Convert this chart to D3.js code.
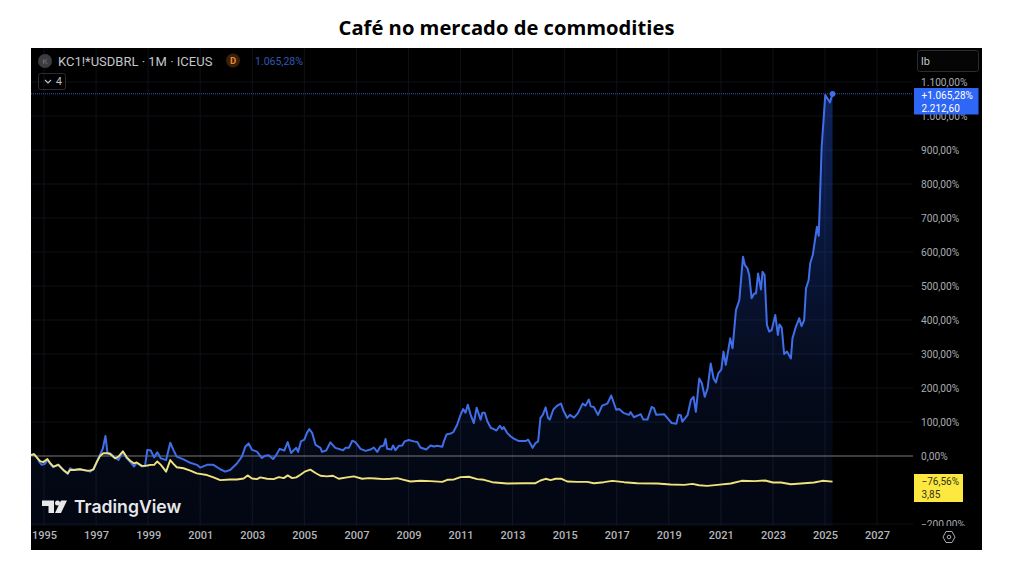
<!DOCTYPE html>
<html>
<head>
<meta charset="utf-8">
<script src="https://cdn.jsdelivr.net/npm/d3@7"></script>
<style>
  html, body { margin: 0; padding: 0; background: #fff; }
  svg { display: block; }
  text { font-family: Roboto, sans-serif; }
  .domain { display: none; }
</style>
</head>
<body>
<svg id="chart" width="1012" height="562"></svg>
<script>
const title = "Café no mercado de commodities";
const symbolLabel = "KC1!*USDBRL · 1M · ICEUS";
const lastPctLabel = "1.065,28%";
const xTicks = [1995, 1997, 1999, 2001, 2003, 2005, 2007, 2009, 2011, 2013, 2015, 2017, 2019, 2021, 2023, 2025, 2027];
const yTicks = [-200, 0, 100, 200, 300, 400, 500, 600, 700, 800, 900, 1000, 1100];
const coffeeBadge = ["+1.065,28%", "2.212,60"];
const ratioBadge = ["−76,56%", "3,85"];

// [year, % change]
const coffee = [
  [1994.5,3],[1994.62,5],[1994.72,-2],[1994.82,-17],[1994.91,-26],[1995.04,-23],[1995.13,-12],[1995.23,-22],
  [1995.36,-33],[1995.55,-25],[1995.74,-41],[1995.91,-53],[1996.0,-36],[1996.13,-41],[1996.38,-39],[1996.64,-43],
  [1996.77,-46],[1996.9,-39],[1997.03,-17],[1997.15,3],[1997.26,22],[1997.36,59],[1997.44,8],[1997.54,8],
  [1997.73,-4],[1997.86,-12],[1998.03,12],[1998.18,-7],[1998.31,-17],[1998.46,-31],[1998.56,-20],[1998.76,-31],
  [1998.88,-29],[1998.97,18],[1999.1,16],[1999.23,-4],[1999.35,11],[1999.49,-7],[1999.69,-12],[1999.85,39],
  [1999.97,18],[2000.1,-2],[2000.36,-10],[2000.62,-20],[2000.87,-26],[2001.0,-34],[2001.26,-26],[2001.51,-26],
  [2001.77,-39],[2001.96,-46],[2002.15,-41],[2002.41,-22],[2002.6,-2],[2002.73,27],[2002.86,37],[2002.99,18],
  [2003.18,13],[2003.37,-6],[2003.5,1],[2003.63,2],[2003.8,-9],[2003.93,4],[2004.05,21],[2004.23,16],
  [2004.36,41],[2004.49,9],[2004.59,17],[2004.69,24],[2004.76,12],[2004.87,43],[2005.0,48],[2005.1,68],
  [2005.19,79],[2005.3,68],[2005.43,33],[2005.62,24],[2005.68,12],[2005.84,16],[2006.0,40],[2006.19,24],
  [2006.49,17],[2006.58,24],[2006.71,24],[2006.84,45],[2006.96,41],[2007.16,21],[2007.35,15],[2007.54,19],
  [2007.67,25],[2007.8,12],[2007.92,28],[2008.05,31],[2008.12,50],[2008.18,21],[2008.34,19],[2008.41,31],
  [2008.5,17],[2008.63,30],[2008.76,31],[2008.85,43],[2009.01,47],[2009.21,43],[2009.34,41],[2009.46,25],
  [2009.68,19],[2009.85,31],[2009.98,28],[2010.1,30],[2010.3,27],[2010.36,43],[2010.46,63],[2010.62,66],
  [2010.72,70],[2010.87,92],[2011.0,121],[2011.1,138],[2011.19,127],[2011.28,151],[2011.39,121],[2011.51,97],
  [2011.62,142],[2011.77,107],[2011.84,127],[2011.93,127],[2012.03,102],[2012.16,83],[2012.28,79],[2012.38,75],
  [2012.51,89],[2012.6,79],[2012.66,85],[2012.79,68],[2012.92,58],[2013.05,51],[2013.24,44],[2013.5,44],
  [2013.6,48],[2013.77,24],[2013.88,38],[2013.98,43],[2014.07,112],[2014.16,121],[2014.27,143],[2014.36,112],
  [2014.43,107],[2014.56,136],[2014.68,146],[2014.78,151],[2014.86,154],[2014.95,134],[2015.1,112],[2015.2,121],
  [2015.36,113],[2015.51,126],[2015.69,154],[2015.8,148],[2015.93,166],[2016.0,146],[2016.12,144],[2016.28,121],
  [2016.44,148],[2016.64,154],[2016.79,178],[2016.98,136],[2017.09,138],[2017.28,126],[2017.47,121],[2017.53,129],
  [2017.66,114],[2017.86,121],[2017.92,123],[2018.02,107],[2018.18,107],[2018.34,144],[2018.43,141],[2018.52,121],
  [2018.82,123],[2018.94,112],[2019.11,97],[2019.29,95],[2019.37,121],[2019.46,120],[2019.52,101],[2019.72,120],
  [2019.85,165],[2019.95,174],[2020.04,130],[2020.17,228],[2020.27,214],[2020.38,174],[2020.49,199],[2020.61,272],
  [2020.72,228],[2020.81,216],[2020.9,243],[2021.02,255],[2021.1,307],[2021.19,268],[2021.36,346],[2021.45,317],
  [2021.58,429],[2021.71,459],[2021.85,586],[2021.92,562],[2022.02,552],[2022.09,532],[2022.18,464],[2022.28,478],
  [2022.35,478],[2022.43,537],[2022.54,490],[2022.6,542],[2022.68,532],[2022.77,385],[2022.86,366],[2022.95,370],
  [2023.09,415],[2023.19,356],[2023.25,387],[2023.34,377],[2023.43,300],[2023.54,307],[2023.69,287],[2023.75,346],
  [2023.88,380],[2024.01,405],[2024.1,382],[2024.2,400],[2024.27,493],[2024.37,517],[2024.43,566],[2024.53,591],
  [2024.69,674],[2024.76,648],[2024.87,906],[2025.01,1062],[2025.19,1040],[2025.29,1065]
];

const ratio = [
  [1994.5,3],[1994.62,5],[1994.72,-4],[1994.85,-15],[1994.97,-18],[1995.13,-9],[1995.23,-20],[1995.36,-31],
  [1995.55,-26],[1995.74,-41],[1995.91,-51],[1996.0,-41],[1996.13,-41],[1996.38,-39],[1996.64,-43],[1996.77,-43],
  [1996.9,-39],[1997.03,-17],[1997.15,0],[1997.28,8],[1997.44,8],[1997.54,6],[1997.73,-7],[1997.86,-2],
  [1998.03,14],[1998.18,-4],[1998.31,-14],[1998.46,-22],[1998.56,-19],[1998.76,-29],[1998.88,-29],[1998.97,-28],
  [1999.1,-26],[1999.23,-26],[1999.35,-16],[1999.49,-26],[1999.69,-46],[1999.85,-12],[1999.97,-23],[2000.1,-33],
  [2000.36,-36],[2000.62,-43],[2000.87,-51],[2001.26,-56],[2001.51,-63],[2001.77,-71],[2002.15,-69],[2002.41,-69],
  [2002.67,-66],[2002.82,-57],[2002.99,-66],[2003.18,-68],[2003.31,-63],[2003.57,-67],[2003.82,-68],[2004.02,-62],
  [2004.21,-65],[2004.36,-57],[2004.53,-65],[2004.69,-63],[2004.85,-55],[2005.04,-45],[2005.23,-40],[2005.43,-50],
  [2005.62,-58],[2005.87,-60],[2006.1,-58],[2006.32,-67],[2006.64,-63],[2006.9,-60],[2007.22,-67],[2007.48,-65],
  [2007.73,-66],[2008.05,-68],[2008.31,-67],[2008.57,-65],[2008.82,-70],[2009.08,-75],[2009.46,-73],[2009.85,-74],
  [2010.3,-76],[2010.49,-70],[2010.75,-69],[2011.0,-62],[2011.32,-61],[2011.64,-68],[2011.9,-70],[2012.22,-77],
  [2012.79,-81],[2013.43,-80],[2013.88,-80],[2014.07,-72],[2014.27,-67],[2014.46,-71],[2014.65,-67],[2014.88,-67],
  [2015.1,-75],[2015.48,-76],[2015.87,-76],[2016.12,-80],[2016.51,-77],[2016.83,-73],[2017.28,-77],[2017.79,-80],
  [2018.56,-81],[2019.07,-84],[2019.59,-85],[2019.91,-82],[2020.16,-86],[2020.48,-88],[2020.87,-85],[2021.38,-81],
  [2021.8,-73],[2022.3,-74],[2022.7,-72],[2023.0,-78],[2023.31,-78],[2023.69,-83],[2024.58,-78],[2024.9,-73],[2025.29,-75.5]
];

const chartBox = { left: 31, top: 48, right: 982, bottom: 550 };
const plotRight = 913, plotBottom = 526;
const blue = "#3f6ee8", yellow = "#f0e27c", axisText = "#a9abb2";

const svg = d3.select("#chart");
const x = d3.scaleLinear().domain([1995, 2025]).range([44, 825]);
const y = d3.scaleLinear().domain([0, 1000]).range([456, 116]);

const ptBR = d3.formatLocale({ decimal: ",", thousands: ".", grouping: [3], currency: ["", ""], minus: "−" });
const pctFormat = d => ptBR.format(",.2f")(d) + "%";

svg.append("text").attr("x", 506.5).attr("y", 35).attr("text-anchor", "middle")
  .style("font-family", "'Open Sans', sans-serif").style("font-size", "20.2px").style("font-weight", 700)
  .attr("fill", "#000").text(title);

svg.append("rect").attr("x", chartBox.left).attr("y", chartBox.top)
  .attr("width", chartBox.right - chartBox.left).attr("height", chartBox.bottom - chartBox.top).attr("fill", "#000");

const defs = svg.append("defs");
defs.append("clipPath").attr("id", "plot").append("rect")
  .attr("x", chartBox.left).attr("y", chartBox.top)
  .attr("width", plotRight - chartBox.left).attr("height", plotBottom - chartBox.top);
defs.append("clipPath").attr("id", "scaleClip").append("rect")
  .attr("x", plotRight).attr("y", chartBox.top)
  .attr("width", chartBox.right - plotRight).attr("height", plotBottom - chartBox.top);
const grad = defs.append("linearGradient").attr("id", "areaFill")
  .attr("gradientUnits", "userSpaceOnUse").attr("x1", 0).attr("x2", 0).attr("y1", 94).attr("y2", 526);
grad.append("stop").attr("offset", 0).attr("stop-color", "#2962ff").attr("stop-opacity", 0.36);
grad.append("stop").attr("offset", 0.7).attr("stop-color", "#2962ff").attr("stop-opacity", 0.1);
grad.append("stop").attr("offset", 1).attr("stop-color", "#2962ff").attr("stop-opacity", 0.07);

const plot = svg.append("g").attr("clip-path", "url(#plot)");

// grid
plot.append("g").selectAll("line").data(xTicks).join("line")
  .attr("x1", d => x(d)).attr("x2", d => x(d)).attr("y1", chartBox.top).attr("y2", plotBottom)
  .attr("stroke", "#0f1116").attr("stroke-width", 1);
plot.append("g").selectAll("line").data(yTicks.filter(d => d !== 0)).join("line")
  .attr("x1", chartBox.left).attr("x2", plotRight).attr("y1", d => y(d)).attr("y2", d => y(d))
  .attr("stroke", "#0f1116").attr("stroke-width", 1);

const area = d3.area().x(d => x(d[0])).y0(plotBottom).y1(d => y(d[1]));
const line = d3.line().x(d => x(d[0])).y(d => y(d[1]));

plot.append("path").datum(coffee).attr("d", area).attr("fill", "url(#areaFill)");

// zero line and last value line
plot.append("line").attr("x1", chartBox.left).attr("x2", plotRight).attr("y1", y(0)).attr("y2", y(0))
  .attr("stroke", "#77787c").attr("stroke-width", 1);
plot.append("line").attr("x1", chartBox.left).attr("x2", plotRight)
  .attr("y1", y(1065.28)).attr("y2", y(1065.28))
  .attr("stroke", "#2f55c0").attr("stroke-width", 1).attr("stroke-dasharray", "1 1");

plot.append("path").datum(coffee).attr("d", line).attr("fill", "none")
  .attr("stroke", blue).attr("stroke-width", 2).attr("stroke-linejoin", "round");
plot.append("path").datum(ratio).attr("d", line).attr("fill", "none")
  .attr("stroke", yellow).attr("stroke-width", 1.9).attr("stroke-linejoin", "round");
const lastPoint = coffee[coffee.length - 1];
plot.append("circle").attr("cx", x(lastPoint[0])).attr("cy", y(lastPoint[1])).attr("r", 2.8).attr("fill", blue);

// axes
const xAxis = svg.append("g").attr("transform", `translate(0,${plotBottom})`)
  .call(d3.axisBottom(x).tickValues(xTicks).tickFormat(d3.format("d")).tickSize(0).tickPadding(5));
xAxis.selectAll("text").attr("fill", "#b4b6bc").style("font-size", "11px").style("font-weight", 500)
  .style("font-family", "Roboto, sans-serif");

const yAxis = svg.append("g").attr("clip-path", "url(#scaleClip)").append("g")
  .attr("transform", "translate(921,0)")
  .call(d3.axisRight(y).tickValues(yTicks).tickFormat(pctFormat).tickSize(0).tickPadding(0));
yAxis.selectAll("text").attr("fill", axisText).style("font-size", "10.2px")
  .style("font-family", "Roboto, sans-serif");

// header
svg.append("circle").attr("cx", 45).attr("cy", 61).attr("r", 7).attr("fill", "#3c3c40");
svg.append("text").attr("x", 45).attr("y", 64).attr("text-anchor", "middle").attr("fill", "#777")
  .style("font-size", "8px").text("K");
svg.append("text").attr("x", 58).attr("y", 66).attr("fill", "#c4c5c9").style("font-size", "13px").text(symbolLabel);
svg.append("circle").attr("cx", 233).attr("cy", 60.5).attr("r", 7).attr("fill", "#3a2008");
svg.append("text").attr("x", 233).attr("y", 64).attr("text-anchor", "middle").attr("fill", "#e8873a")
  .style("font-size", "9.5px").style("font-weight", 700).text("D");
svg.append("text").attr("x", 255).attr("y", 65).attr("fill", "#3358b8").style("font-size", "10.5px").text(lastPctLabel);
svg.append("rect").attr("x", 38.5).attr("y", 73.5).attr("width", 27).attr("height", 16).attr("rx", 2)
  .attr("fill", "none").attr("stroke", "#2c2c30");
svg.append("path").attr("d", "M45 80 l3 3 l3 -3").attr("fill", "none").attr("stroke", "#c4c5c9").attr("stroke-width", 1.1);
svg.append("text").attr("x", 56).attr("y", 85).attr("fill", "#c4c5c9").style("font-size", "10.5px").text("4");

// unit box
svg.append("rect").attr("x", 917.5).attr("y", 50.5).attr("width", 61).attr("height", 21).attr("rx", 2)
  .attr("fill", "#050505").attr("stroke", "#2c2c30");
svg.append("text").attr("x", 921).attr("y", 65).attr("fill", "#c4c5c9").style("font-size", "11px").text("lb");

// last value badges
function badge(top, width, height, fill, color, lines) {
  svg.append("rect").attr("x", 914).attr("y", top).attr("width", width).attr("height", height).attr("fill", fill);
  svg.selectAll(null).data(lines).join("text")
    .attr("x", 921.5).attr("y", (d, i) => top + 11 + i * 12.5)
    .attr("fill", color).style("font-size", "10px").text(d => d);
}
badge(88, 64.5, 26.5, "#2e66f5", "#fff", coffeeBadge);
badge(474, 49, 28, "#fde83f", "#33331c", ratioBadge);

// settings hexagon
svg.append("path").attr("d", "M943 537 l3 -5.5 h6 l3 5.5 l-3 5.5 h-6 z").attr("fill", "none").attr("stroke", "#a9abb2");
svg.append("circle").attr("cx", 949).attr("cy", 537).attr("r", 1.8).attr("fill", "none").attr("stroke", "#a9abb2");

// watermark
const logo = svg.append("g").attr("fill", "#e8e8ea");
logo.append("path").attr("d", "M42 500.5 h12 v12.5 h-5.5 v-7 h-6.5 z");
logo.append("circle").attr("cx", 57.5).attr("cy", 503).attr("r", 2.5);
logo.append("path").attr("d", "M61 500.5 h6 l-6 12.5 h-6 z");
logo.append("text").attr("x", 74).attr("y", 513).style("font-size", "17.6px").style("font-weight", 600)
  .style("font-family", "Inter, sans-serif").text("TradingView");
</script>
</body>
</html>
